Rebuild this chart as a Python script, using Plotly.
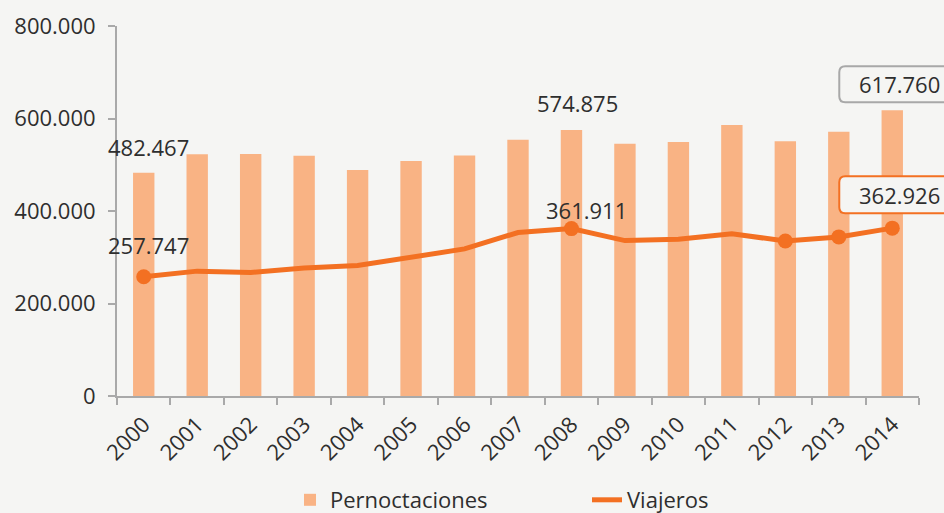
import plotly.graph_objects as go

years = ["2000", "2001", "2002", "2003", "2004", "2005", "2006", "2007",
         "2008", "2009", "2010", "2011", "2012", "2013", "2014"]
pernoctaciones = [482467, 522600, 523200, 519600, 488600, 508000, 520000, 554000,
                  574875, 545500, 549000, 586000, 551000, 571500, 617760]
viajeros = [257747, 270000, 267000, 277000, 282000, 299000, 318000, 353500,
            361911, 336000, 339000, 351000, 335000, 344000, 362926]
marker_years = ["2000", "2008", "2012", "2013", "2014"]
y_tickvals = [0, 200000, 400000, 600000, 800000]
y_ticktext = ["0", "200.000", "400.000", "600.000", "800.000"]

BG = "#F5F5F3"
BAR = "#F9B384"
LINE = "#F37022"
AXIS = "#A9A9A9"
TXT = "#2E2E2E"
FONT = "Open Sans"
FS = 22


def fmt(v):
    return f"{v:,}".replace(",", ".")


n = len(years)
idx = list(range(n))

fig = go.Figure()
fig.add_trace(go.Bar(x=idx, y=pernoctaciones, name="Pernoctaciones",
                     marker=dict(color=BAR, line=dict(width=0)), width=0.4))
fig.add_trace(go.Scatter(x=idx, y=viajeros, name="Viajeros", mode="lines",
                         line=dict(color=LINE, width=5)))
mk = [(i, v) for i, y, v in zip(idx, years, viajeros) if y in marker_years]
fig.add_trace(go.Scatter(x=[m[0] for m in mk], y=[m[1] for m in mk], mode="markers",
                         marker=dict(color=LINE, size=15), showlegend=False))

anns = []
i00, i08, i14 = years.index("2000"), years.index("2008"), years.index("2014")
for xi, val, xs, ys in [(i00, pernoctaciones[i00], 5, 26),
                        (i08, pernoctaciones[i08], 6, 27),
                        (i00, viajeros[i00], 5, 32),
                        (i08, viajeros[i08], 15, 19)]:
    anns.append(dict(x=xi, y=val, xref="x", yref="y", text=fmt(val), showarrow=False,
                     xshift=xs, yshift=ys, font=dict(size=FS, color=TXT, family=FONT)))
shapes = []


def rounded(x0, x1, y0, y1, r=6):
    return (f"M{x0+r},{y0} L{x1-r},{y0} Q{x1},{y0} {x1},{y0+r} L{x1},{y1-r} "
            f"Q{x1},{y1} {x1-r},{y1} L{x0+r},{y1} Q{x0},{y1} {x0},{y1-r} "
            f"L{x0},{y0+r} Q{x0},{y0} {x0+r},{y0} Z")


for val, col, b0, b1, ty in [(pernoctaciones[i14], "#A8A8A8", 8, 44, 26),
                             (viajeros[i14], LINE, 15, 52, 33)]:
    shapes.append(dict(type="path", xref="paper", yref="y", xsizemode="pixel",
                       ysizemode="pixel", xanchor=(i14 + 0.5) / n, yanchor=val,
                       path=rounded(-53, 70, b0, b1),
                       line=dict(color=col, width=2), fillcolor=BG, layer="above"))
    anns.append(dict(x=i14, y=val, xref="x", yref="y", text=fmt(val), showarrow=False,
                     xshift=7, yshift=ty, font=dict(size=FS, color=TXT, family=FONT)))

fig.update_layout(
    width=944, height=513,
    paper_bgcolor=BG, plot_bgcolor=BG,
    margin=dict(l=117, r=25, t=26, b=117, autoexpand=False),
    font=dict(family=FONT, size=FS, color=TXT),
    showlegend=True,
    legend=dict(orientation="h", xref="container", yref="container",
                x=(335 - 45) / 944, xanchor="left", y=13 / 513, yanchor="middle",
                font=dict(size=FS, color=TXT), entrywidth=252,
                bgcolor="rgba(0,0,0,0)"),
    annotations=anns,
    shapes=shapes,
)
fig.update_xaxes(range=[-0.5, n - 0.5], tickvals=idx, ticktext=years,
                 showline=True, linecolor=AXIS, linewidth=2, automargin=False,
                 ticks="", tickangle=-45, showgrid=False, zeroline=False,
                 ticklabelstandoff=5,
                 tickfont=dict(size=FS, color=TXT, family=FONT))
fig.update_xaxes(minor=dict(tickvals=[i - 0.5 for i in idx] + [n - 0.5],
                            ticks="outside", ticklen=7, tickcolor=AXIS, tickwidth=2,
                            showgrid=False))
fig.update_yaxes(range=[0, 800000], tickvals=y_tickvals, ticktext=y_ticktext,
                 showline=True, linecolor=AXIS, linewidth=2, ticks="outside",
                 ticklen=7, tickcolor=AXIS, tickwidth=2, showgrid=False,
                 zeroline=False, automargin=False, ticklabelstandoff=8,
                 tickfont=dict(size=FS, color=TXT, family=FONT))

fig.write_html("out.html", config={"displayModeBar": False},
               post_script="document.body.style.margin='0';"
                           "document.body.style.background='#F5F5F3';")
